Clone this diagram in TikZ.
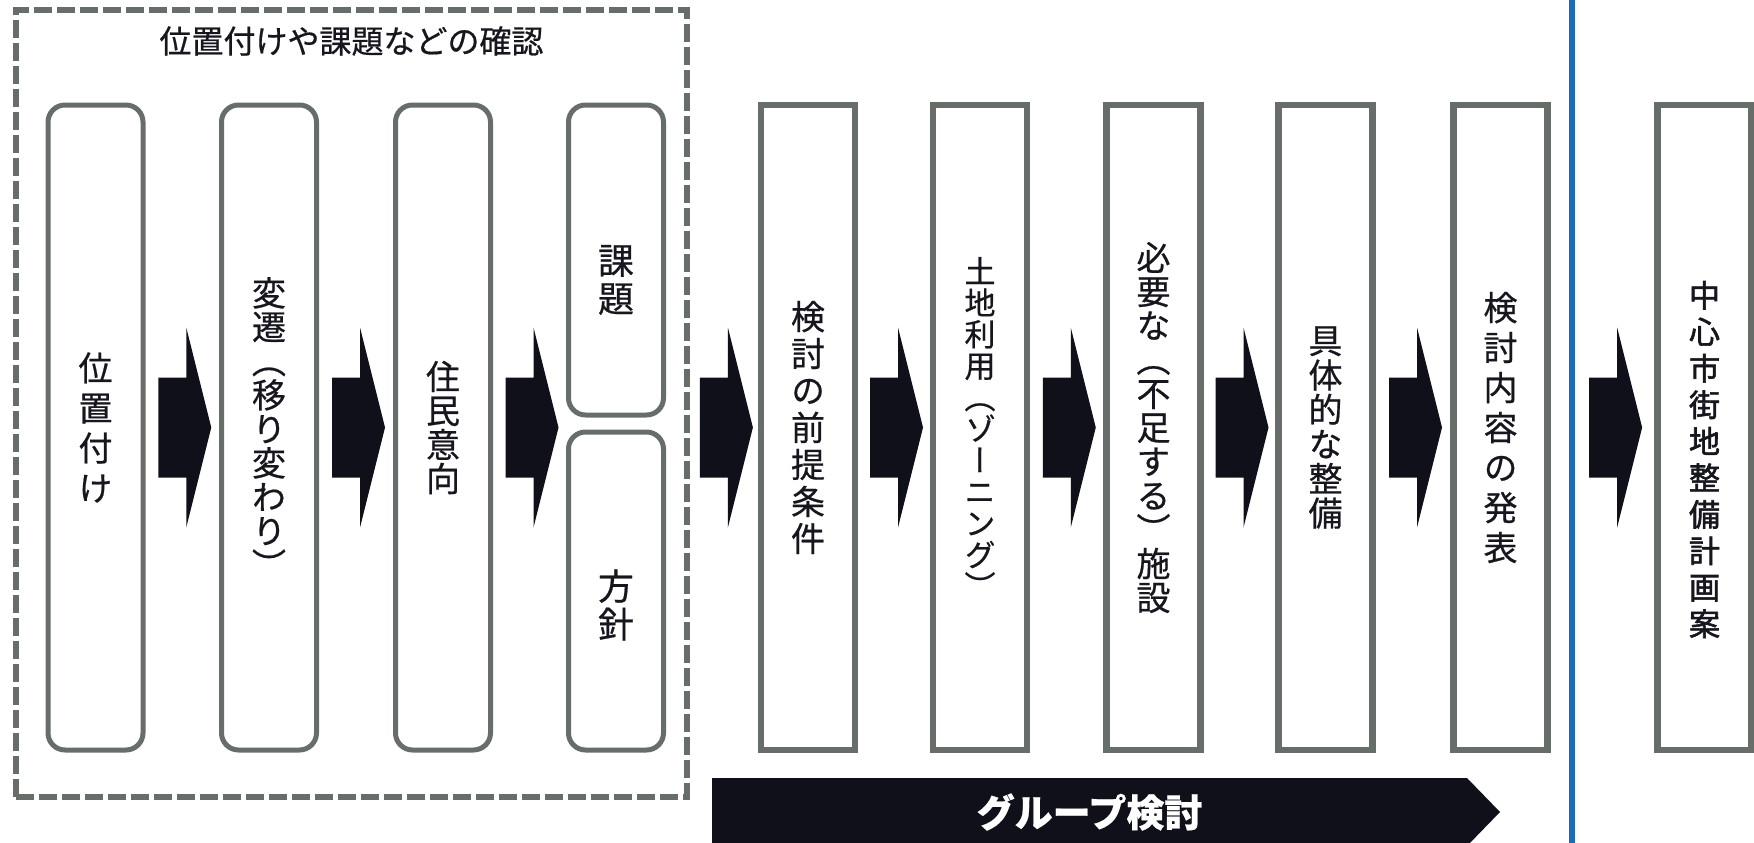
\documentclass[tikz,border=0pt]{standalone}
\usepackage{fontspec}
\usetikzlibrary{calc}

\newfontfamily\jpfont[FakeBold = 0.6]{Noto Sans CJK JP}
\newfontfamily\jpvert[RawFeature = +vert, FakeBold = 0.6]{Noto Sans CJK JP}
\newfontfamily\jpplan[RawFeature = +vert, FakeBold = 2]{Noto Sans CJK JP}

\definecolor{framegray}{RGB}{103, 110, 105}
\definecolor{arrowink}{RGB}{16, 16, 26}
\definecolor{inkblack}{RGB}{22, 22, 30}
\definecolor{divblue}{RGB}{26, 108, 182}

\tikzset{
	stage/.style = {draw = framegray, line width = 5pt, rounded corners = 17pt, minimum width = 95},
	task/.style = {draw = framegray, line width = 6.5pt, minimum width = 94, minimum height = 645},
	boxtext/.style = {align = center, text = inkblack, font = \jpvert\fontsize{34}{#1}\selectfont},
	checkframe/.style = {draw = framegray, line width = 6pt, dash pattern = on 18pt off 5pt},
	headline/.style = {text = inkblack, font = \jpfont\fontsize{32}{38}\selectfont},
	bannerlabel/.style = {text = white, font = \jpfont\bfseries\fontsize{38}{44}\selectfont},
	divider/.style = {draw = divblue, line width = 6pt}
}

% Block arrow centred in the gap between two points
\newcommand\blockarrow[2]{%
	\fill [arrowink] ($(#1)!0.5!(#2)$) ++(-24, -50) -- ++(28, 0) -- ++(0, -50) -- ++(25, 100) -- ++(-25, 100) -- ++(0, -50) -- ++(-28, 0) -- cycle;}

\begin{document}
\begin{tikzpicture}[x = 1pt, y = -1pt, every node/.style = {inner sep = 0pt}]

	% Canvas (one unit is one pixel of the reference)
	
	\useasboundingbox (0, 0) rectangle (1754, 843);
	
	% Definitions
	
	\def\yMid{427.5}		% Vertical centre of the long boxes
	\def\hLong{645}		% Height of the long boxes
	
	% Dashed frame of the checking stage
	
	\node [checkframe, minimum width = 671, minimum height = 787] (check) at (351.5, 403.5) {};
	\node [headline] (checktitle) at (351.5, 41) {位置付けや課題などの確認};
	
	% Checking stages (rounded boxes)
	
	\node [stage, minimum height = \hLong, boxtext = 40] (place) at (95.5, \yMid) {位\\置\\付\\け};
	\node [stage, minimum height = \hLong, boxtext = 34] (shift) at (269, \yMid) {変\\遷\\（\\移\\り\\変\\わ\\り\\）};
	\node [stage, minimum height = \hLong, boxtext = 34] (resid) at (443, \yMid) {住\\民\\意\\向};
	
	\node [stage, minimum height = 310] (issue) at (616, 260) {};
	\node [boxtext = 38, font = \jpvert\fontsize{36}{38}\selectfont] (issuetext) at ($(issue.center) + (0, 20)$) {課\\題};
	\node [stage, minimum height = 318] (policy) at (616, 591) {};
	\node [boxtext = 38, font = \jpvert\fontsize{36}{38}\selectfont] (policytext) at ($(policy.center) + (0, 14)$) {方\\針};
	
	% Group work stages (square boxes)
	
	\node [task, boxtext = 37] (prem) at (808, \yMid) {検\\討\\の\\前\\提\\条\\件};
	\node [task, boxtext = 31.5, font = \jpvert\fontsize{31}{31.5}\selectfont] (zone) at (980, \yMid) {土\\地\\利\\用\\（\\ゾ\\ー\\ニ\\ン\\グ\\）};
	\node [task, boxtext = 34] (facil) at (1153.5, \yMid) {必\\要\\な\\（\\不\\足\\す\\る\\）\\施\\設};
	\node [task, boxtext = 34.5] (spec) at (1325.5, \yMid) {具\\体\\的\\な\\整\\備};
	\node [task, boxtext = 40] (pres) at (1500.5, \yMid) {検\\討\\内\\容\\の\\発\\表};
	
	% Divider and final plan
	
	\coordinate (divtop) at (1572, 0);
	\coordinate (divbot) at (1572, 843);
	\draw [divider] (divtop) -- (divbot);
	
	\node [task] (plan) at (1704.5, \yMid) {};
	\node [boxtext = 36.5, font = \jpplan\fontsize{31}{36.5}\selectfont] (plantext) at ($(plan.center) + (0, 32)$) {中\\心\\市\\街\\地\\整\\備\\計\\画\\案};
	
	% Block arrows
	
	\coordinate (residout) at (resid.east -| issue.west);
	\coordinate (checkout) at (check.east |- prem.west);
	\coordinate (divout) at (divtop |- plan.west);
	
	\blockarrow{place.east}{shift.west}
	\blockarrow{shift.east}{resid.west}
	\blockarrow{resid.east}{residout}
	\blockarrow{checkout}{prem.west}
	\blockarrow{prem.east}{zone.west}
	\blockarrow{zone.east}{facil.west}
	\blockarrow{facil.east}{spec.west}
	\blockarrow{spec.east}{pres.west}
	\blockarrow{divout}{plan.west}
	
	% Group work banner
	
	\fill [arrowink] (712, 778) -- (1467, 778) -- (1500, 812) -- (1467, 846) -- (712, 846) -- cycle;
	\node [bannerlabel] (group) at (1089.5, 812) {グループ検討};

\end{tikzpicture}
\end{document}
